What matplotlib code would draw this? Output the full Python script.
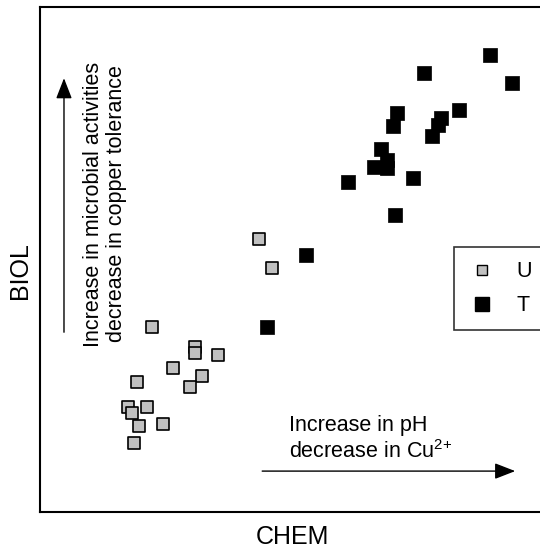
import matplotlib
matplotlib.use("Agg")
import matplotlib.pyplot as plt
from matplotlib.lines import Line2D

plt.rcParams["font.family"] = ["Liberation Sans", "DejaVu Sans"]
plt.rcParams["mathtext.fontset"] = "custom"
plt.rcParams["mathtext.rm"] = "Liberation Sans"
plt.rcParams["mathtext.default"] = "regular"

# untreated soils (U)
u_chem = [43.4, 45.9, 22.2, 30.7, 30.7, 35.2, 26.3, 32.1, 19.2, 29.7,
          17.4, 21.2, 18.2, 19.6, 24.4, 18.6]
u_biol = [54.1, 48.3, 36.6, 32.7, 31.5, 31.1, 28.5, 26.9, 25.7, 24.8,
          20.8, 20.8, 19.6, 17.0, 17.4, 13.7]

# treated soils (T)
t_chem = [89.1, 76.0, 93.5, 70.7, 83.0, 69.9, 79.4, 78.8, 77.6, 67.5,
          68.7, 66.1, 68.7, 73.9, 61.0, 70.3, 52.7, 45.0]
t_biol = [90.5, 86.9, 85.0, 79.0, 79.6, 76.4, 78.0, 76.6, 74.5, 71.9,
          69.7, 68.3, 68.1, 66.1, 65.3, 58.8, 50.9, 36.6]

labels = ["U", "T"]
u_color = "#c0c0c0"
t_color = "black"

fig = plt.figure(figsize=(5.4, 5.5), dpi=100)
ax = fig.add_axes([40 / 540, 38 / 550, 505 / 540, 505 / 550])

ax.scatter(u_chem, u_biol, marker="s", s=78, c=u_color, edgecolors="black",
           linewidths=1.2, zorder=3)
ax.scatter(t_chem, t_biol, marker="s", s=100, c=t_color, edgecolors="black",
           linewidths=0.5, zorder=3)

ax.set_xlim(0, 100)
ax.set_ylim(0, 100)
ax.set_xticks([])
ax.set_yticks([])
for sp in ax.spines.values():
    sp.set_linewidth(1.5)

ax.set_xlabel("CHEM", fontsize=18, labelpad=9)
ax.set_ylabel("BIOL", fontsize=18)
ax.yaxis.set_label_coords(-0.016, 0.479)

# direction arrows and notes
arrow_style = dict(arrowstyle="-|>,head_length=0.9,head_width=0.35",
                   color="black", lw=1.0, mutation_scale=14,
                   shrinkA=0, shrinkB=0)
ax.annotate("", xy=(4.75, 85.9), xytext=(4.75, 35.6), arrowprops=arrow_style)
ax.text(12.9, 61.0, "Increase in microbial activities\ndecrease in copper tolerance",
        rotation=90, ha="center", va="center", multialignment="center",
        fontsize=15.5, linespacing=1.1)

ax.annotate("", xy=(94.1, 8.1), xytext=(44.0, 8.1), arrowprops=arrow_style)
ax.text(49.3, 14.5, "Increase in pH\ndecrease in Cu$^{2{+}}$",
        ha="left", va="center", fontsize=15.5, linespacing=1.2)

handles = [
    Line2D([], [], linestyle="none", marker="s", markersize=7,
           markerfacecolor=u_color, markeredgecolor="black", markeredgewidth=1.0),
    Line2D([], [], linestyle="none", marker="s", markersize=10,
           markerfacecolor=t_color, markeredgecolor="black"),
]
leg = ax.legend(handles, labels, loc="lower left", bbox_to_anchor=(0.82, 0.36),
                fontsize=15.5, frameon=True, fancybox=False, borderpad=0.65,
                handlelength=1.3, handletextpad=0.93, labelspacing=0.6,
                borderaxespad=0)
leg.get_frame().set_edgecolor("black")
leg.get_frame().set_linewidth(1.2)

fig.savefig("out.png", dpi=100)
